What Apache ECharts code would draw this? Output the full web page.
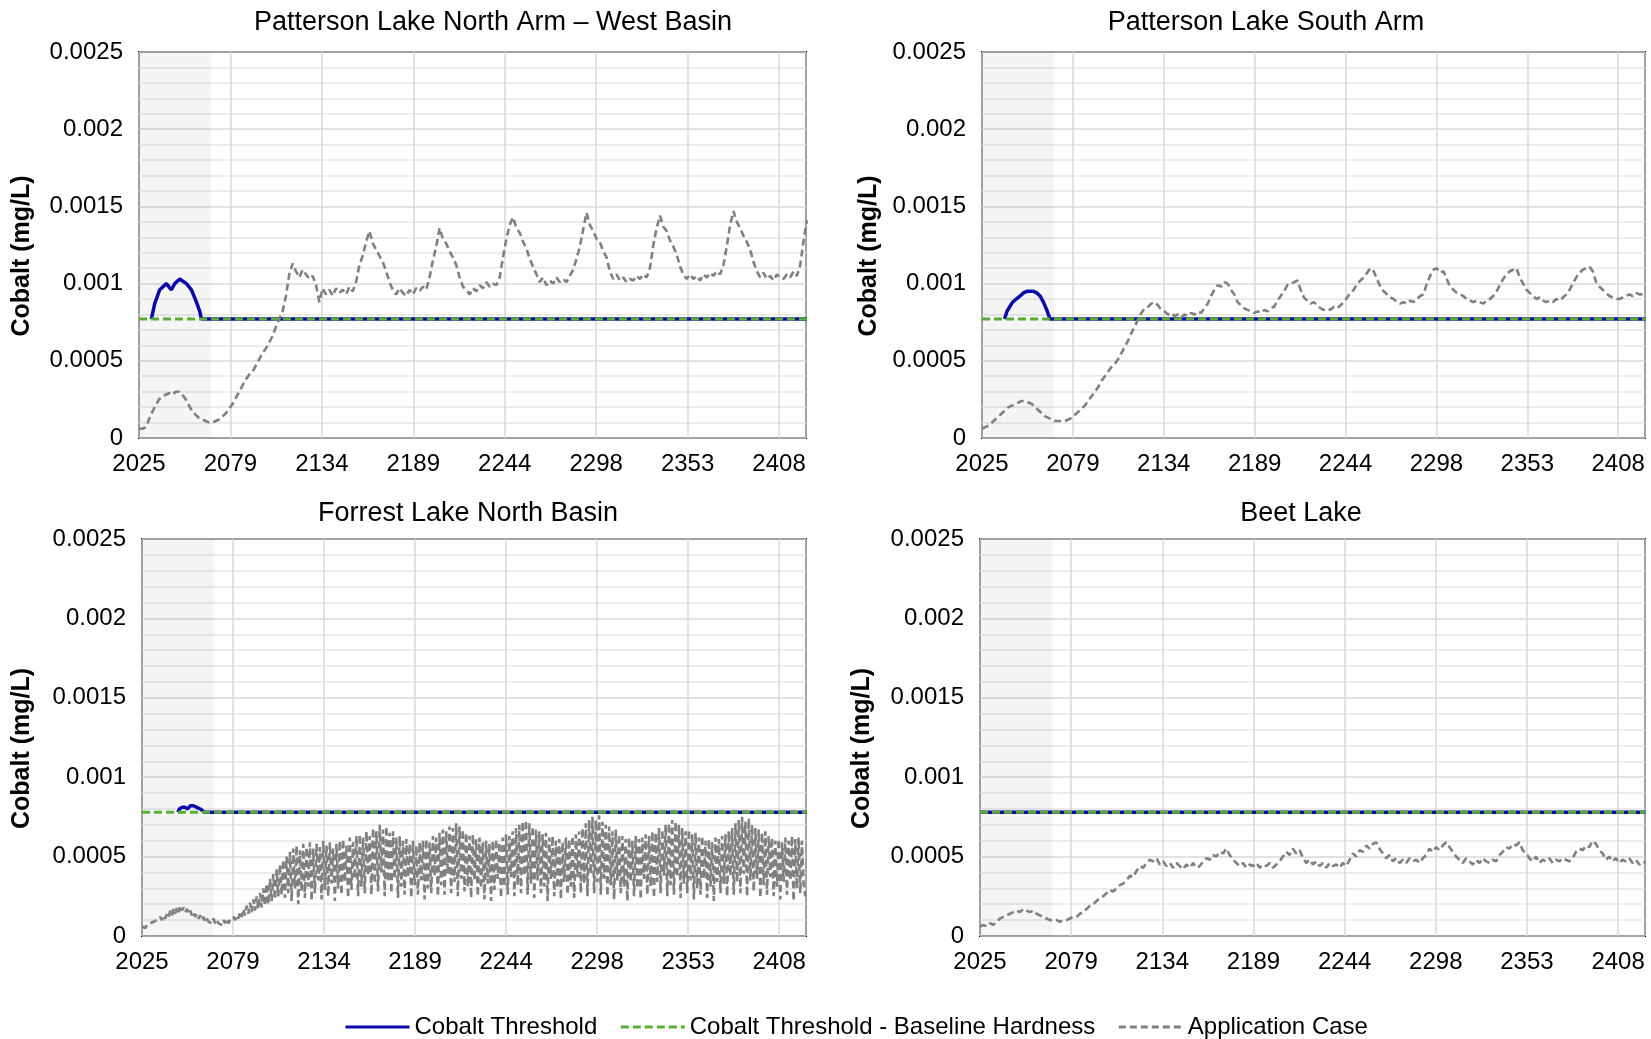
<!DOCTYPE html>
<html><head><meta charset="utf-8">
<script src="https://cdn.jsdelivr.net/npm/echarts@6/dist/echarts.min.js"></script>
<style>html,body{margin:0;padding:0;background:#fff}#c{width:1651px;height:1039px}</style>
</head><body><div id="c"></div>
<script>
// ---------- tick labels / names ----------
const xTickLabels = ['2025','2079','2134','2189','2244','2298','2353','2408'];
const yTickLabels = ['0','0.0005','0.001','0.0015','0.002','0.0025'];
const panelTitles = ['Patterson Lake North Arm \u2013 West Basin','Patterson Lake South Arm','Forrest Lake North Basin','Beet Lake'];
const seriesNames = ['Cobalt Threshold','Cobalt Threshold - Baseline Hardness','Application Case'];
const yAxisName = 'Cobalt (mg/L)';

const START_YEAR = 2025;
const END_YEAR = 2424.45;
const SHADE_END_YEAR = 2068.5;
// baseline-hardness threshold read per lake
const baselineThresholds = [0.00077, 0.00077, 0.00078, 0.00078];

// sample years for the application-case series
const years2 = []; for (let y = 2025; y <= 2425; y += 2) years2.push(y);   // 201 samples
const years1 = []; for (let y = 2025; y <= 2424; y += 1) years1.push(y);   // 400 samples

// ---------- Patterson Lake North Arm - West Basin ----------
const westBasinApp = [
0.00006,0.00006,0.00007,0.00012,0.00017,0.00021,0.00025,0.00027,0.00028,0.00029,
0.00028,0.00030,0.00030,0.00028,0.00025,0.00021,0.00017,0.00015,0.00013,0.00012,
0.00011,0.00010,0.00010,0.00011,0.00012,0.00014,0.00016,0.00019,0.00022,0.00026,
0.00030,0.00034,0.00038,0.00041,0.00043,0.00047,0.00051,0.00055,0.00058,0.00062,
0.00066,0.00072,0.00077,0.00082,0.00092,0.00106,0.00113,0.00108,0.00104,0.00109,
0.00106,0.00103,0.00105,0.00099,0.00088,0.00097,0.00093,0.00096,0.00092,0.00097,
0.00094,0.00096,0.00093,0.00098,0.00095,0.00101,0.00112,0.00118,0.00127,0.00134,
0.00126,0.00122,0.00118,0.00114,0.00108,0.00101,0.00096,0.00093,0.00097,0.00094,
0.00092,0.00096,0.00093,0.00097,0.00095,0.00098,0.00096,0.00104,0.00115,0.00124,
0.00136,0.00129,0.00126,0.00121,0.00117,0.00112,0.00104,0.00098,0.00096,0.00093,
0.00097,0.00095,0.00099,0.00097,0.00101,0.00098,0.00100,0.00099,0.00104,0.00117,
0.00129,0.00138,0.00143,0.00136,0.00133,0.00127,0.00123,0.00116,0.00111,0.00106,
0.00101,0.00104,0.00099,0.00102,0.00100,0.00104,0.00101,0.00103,0.00101,0.00105,
0.00109,0.00116,0.00124,0.00135,0.00146,0.00138,0.00134,0.00129,0.00127,0.00121,
0.00117,0.00108,0.00103,0.00106,0.00102,0.00104,0.00101,0.00103,0.00102,0.00105,
0.00103,0.00106,0.00104,0.00110,0.00125,0.00136,0.00144,0.00137,0.00134,0.00128,
0.00124,0.00119,0.00111,0.00106,0.00103,0.00106,0.00103,0.00105,0.00102,0.00106,
0.00104,0.00107,0.00105,0.00108,0.00106,0.00112,0.00124,0.00138,0.00147,0.00140,
0.00136,0.00131,0.00127,0.00122,0.00114,0.00108,0.00104,0.00107,0.00103,0.00105,
0.00102,0.00106,0.00104,0.00103,0.00106,0.00104,0.00108,0.00105,0.00112,0.00128,
0.00141];
const westBasinThrYears = [2032.4,2034.4,2037.4,2041.4,2044.4,2046.4,2049.4,2053.4,2056.4,2059.4,2061.4,2062.4,2425];
const westBasinThrVals  = [0.00077,0.00087,0.00096,0.00100,0.00096,0.00100,0.00103,0.00100,0.00096,0.00088,0.00082,0.00077,0.00077];

// ---------- Patterson Lake South Arm ----------
const southArmApp = [
0.00006,0.00007,0.00008,0.00010,0.00012,0.00014,0.00016,0.00018,0.00020,0.00021,
0.00022,0.00023,0.00024,0.00024,0.00023,0.00022,0.00020,0.00018,0.00016,0.00014,
0.00013,0.00012,0.00011,0.00011,0.00011,0.00011,0.00012,0.00013,0.00015,0.00017,
0.00019,0.00021,0.00024,0.00027,0.00030,0.00033,0.00037,0.00040,0.00043,0.00046,
0.00048,0.00051,0.00055,0.00059,0.00063,0.00068,0.00072,0.00077,0.00081,0.00084,
0.00085,0.00087,0.00088,0.00086,0.00083,0.00082,0.00080,0.00081,0.00079,0.00080,
0.00078,0.00080,0.00079,0.00081,0.00080,0.00082,0.00081,0.00084,0.00087,0.00092,
0.00096,0.00099,0.00098,0.00101,0.00100,0.00096,0.00093,0.00088,0.00086,0.00084,
0.00083,0.00082,0.00081,0.00082,0.00081,0.00083,0.00082,0.00084,0.00085,0.00089,
0.00092,0.00095,0.00099,0.00100,0.00101,0.00102,0.00096,0.00091,0.00089,0.00087,
0.00088,0.00086,0.00084,0.00083,0.00084,0.00083,0.00085,0.00084,0.00086,0.00088,
0.00091,0.00094,0.00096,0.00100,0.00102,0.00104,0.00107,0.00110,0.00108,0.00103,
0.00098,0.00095,0.00093,0.00091,0.00090,0.00088,0.00087,0.00088,0.00087,0.00089,
0.00088,0.00090,0.00092,0.00093,0.00100,0.00105,0.00109,0.00110,0.00107,0.00108,
0.00103,0.00098,0.00096,0.00094,0.00093,0.00092,0.00090,0.00089,0.00088,0.00089,
0.00088,0.00087,0.00089,0.00090,0.00092,0.00095,0.00099,0.00103,0.00106,0.00108,
0.00109,0.00110,0.00104,0.00100,0.00096,0.00094,0.00092,0.00090,0.00091,0.00089,
0.00088,0.00089,0.00088,0.00090,0.00089,0.00091,0.00093,0.00096,0.00100,0.00104,
0.00107,0.00109,0.00110,0.00111,0.00108,0.00101,0.00098,0.00096,0.00094,0.00092,
0.00091,0.00090,0.00090,0.00091,0.00092,0.00093,0.00092,0.00094,0.00093,0.00093,
0.00092];
const southArmThrYears = [2038.6,2040,2041.7,2043.5,2045.6,2048,2050,2052,2054,2056,2058,2060,2062,2064,2066,2425];
const southArmThrVals  = [0.00077,0.00082,0.00085,0.00088,0.00090,0.00092,0.00094,0.00095,0.00095,0.00095,0.00094,0.00092,0.00088,0.00083,0.00077,0.00077];

// ---------- Forrest Lake North Basin (yearly) ----------
const forrestApp = [
0.00006,0.00007,0.00005,0.00007,0.00006,0.00008,0.00007,0.00009,0.00008,0.00010,
0.00009,0.00012,0.00010,0.00013,0.00011,0.00014,0.00012,0.00016,0.00013,0.00017,
0.00014,0.00018,0.00015,0.00019,0.00016,0.00018,0.00015,0.00017,0.00014,0.00016,
0.00013,0.00015,0.00012,0.00014,0.00011,0.00013,0.00010,0.00012,0.00009,0.00011,
0.00009,0.00010,0.00008,0.00011,0.00008,0.00010,0.00008,0.00009,0.00007,0.00010,
0.00008,0.00011,0.00008,0.00010,0.00009,0.00012,0.00010,0.00013,0.00011,0.00015,
0.00012,0.00017,0.00013,0.00019,0.00014,0.00021,0.00015,0.00023,0.00016,0.00025,
0.00017,0.00027,0.00018,0.00030,0.00019,0.00033,0.00020,0.00036,0.00022,0.00039,
0.00023,0.00042,0.00025,0.00045,0.00026,0.00048,0.00024,0.00050,0.00027,0.00053,
0.00022,0.00055,0.00030,0.00057,0.00020,0.00054,0.00028,0.00058,0.00024,0.00056,
0.00031,0.00059,0.00022,0.00055,0.00027,0.00058,0.00035,0.00056,0.00023,0.00060,
0.00029,0.00057,0.00025,0.00059,0.00033,0.00055,0.00022,0.00058,0.00030,0.00060,
0.00026,0.00061,0.00034,0.00057,0.00024,0.00062,0.00029,0.00059,0.00036,0.00063,
0.00025,0.00064,0.00031,0.00062,0.00027,0.00066,0.00038,0.00063,0.00026,0.00068,
0.00033,0.00066,0.00028,0.00070,0.00040,0.00067,0.00025,0.00069,0.00034,0.00065,
0.00027,0.00066,0.00036,0.00062,0.00024,0.00063,0.00031,0.00060,0.00026,0.00061,
0.00037,0.00058,0.00024,0.00060,0.00032,0.00057,0.00026,0.00059,0.00035,0.00060,
0.00023,0.00061,0.00030,0.00059,0.00027,0.00063,0.00038,0.00062,0.00025,0.00065,
0.00032,0.00067,0.00026,0.00066,0.00039,0.00069,0.00027,0.00068,0.00034,0.00071,
0.00025,0.00069,0.00036,0.00067,0.00028,0.00065,0.00031,0.00063,0.00024,0.00064,
0.00035,0.00061,0.00025,0.00062,0.00030,0.00059,0.00023,0.00060,0.00033,0.00058,
0.00022,0.00060,0.00029,0.00061,0.00036,0.00059,0.00024,0.00062,0.00031,0.00064,
0.00026,0.00063,0.00037,0.00066,0.00025,0.00068,0.00032,0.00070,0.00027,0.00072,
0.00038,0.00073,0.00026,0.00071,0.00033,0.00069,0.00024,0.00067,0.00035,0.00066,
0.00027,0.00064,0.00031,0.00065,0.00022,0.00062,0.00036,0.00063,0.00025,0.00060,
0.00030,0.00061,0.00023,0.00059,0.00034,0.00062,0.00026,0.00061,0.00031,0.00063,
0.00024,0.00064,0.00037,0.00066,0.00027,0.00068,0.00033,0.00071,0.00025,0.00073,
0.00039,0.00075,0.00027,0.00073,0.00034,0.00076,0.00026,0.00072,0.00036,0.00070,
0.00025,0.00069,0.00032,0.00066,0.00023,0.00067,0.00035,0.00064,0.00027,0.00063,
0.00031,0.00061,0.00022,0.00062,0.00034,0.00060,0.00025,0.00063,0.00030,0.00061,
0.00023,0.00062,0.00036,0.00064,0.00026,0.00063,0.00031,0.00066,0.00024,0.00065,
0.00034,0.00068,0.00027,0.00067,0.00038,0.00070,0.00025,0.00071,0.00032,0.00073,
0.00026,0.00072,0.00037,0.00070,0.00024,0.00068,0.00033,0.00066,0.00027,0.00067,
0.00035,0.00064,0.00023,0.00065,0.00030,0.00062,0.00026,0.00063,0.00036,0.00060,
0.00024,0.00061,0.00031,0.00059,0.00022,0.00062,0.00034,0.00061,0.00027,0.00063,
0.00033,0.00064,0.00025,0.00066,0.00038,0.00068,0.00026,0.00071,0.00034,0.00073,
0.00027,0.00075,0.00039,0.00072,0.00025,0.00074,0.00035,0.00070,0.00028,0.00068,
0.00036,0.00067,0.00024,0.00065,0.00032,0.00066,0.00026,0.00063,0.00037,0.00062,
0.00025,0.00060,0.00031,0.00061,0.00023,0.00059,0.00034,0.00062,0.00026,0.00060,
0.00035,0.00063,0.00022,0.00061,0.00030,0.00062,0.00027,0.00060,0.00033,0.00025];
const forrestThrYears = [2046.6,2047.5,2049,2051,2052.5,2054,2056,2058,2060,2062.5,2425];
const forrestThrVals  = [0.00078,0.00080,0.00081,0.00081,0.00080,0.00082,0.00082,0.00081,0.00080,0.00078,0.00078];

// ---------- Beet Lake ----------
const beetApp = [
0.00006,0.00007,0.00006,0.00008,0.00007,0.00009,0.00011,0.00012,0.00013,0.00014,
0.00015,0.00016,0.00015,0.00017,0.00016,0.00015,0.00016,0.00014,0.00013,0.00012,
0.00011,0.00010,0.00010,0.00010,0.00009,0.00010,0.00010,0.00011,0.00012,0.00012,
0.00014,0.00015,0.00017,0.00019,0.00020,0.00022,0.00024,0.00025,0.00027,0.00029,
0.00028,0.00030,0.00032,0.00033,0.00035,0.00038,0.00037,0.00041,0.00044,0.00043,
0.00046,0.00048,0.00047,0.00049,0.00045,0.00047,0.00044,0.00046,0.00043,0.00046,
0.00044,0.00042,0.00045,0.00043,0.00046,0.00043,0.00044,0.00047,0.00049,0.00048,
0.00051,0.00050,0.00053,0.00052,0.00055,0.00051,0.00048,0.00046,0.00044,0.00046,
0.00043,0.00045,0.00044,0.00046,0.00043,0.00045,0.00044,0.00046,0.00043,0.00045,
0.00047,0.00050,0.00053,0.00051,0.00055,0.00052,0.00054,0.00049,0.00046,0.00048,
0.00045,0.00047,0.00044,0.00046,0.00043,0.00046,0.00044,0.00045,0.00043,0.00046,
0.00044,0.00048,0.00052,0.00050,0.00054,0.00053,0.00057,0.00055,0.00058,0.00059,
0.00055,0.00052,0.00049,0.00051,0.00047,0.00049,0.00046,0.00048,0.00046,0.00049,
0.00047,0.00048,0.00046,0.00049,0.00051,0.00055,0.00053,0.00056,0.00054,0.00057,
0.00059,0.00056,0.00053,0.00050,0.00048,0.00046,0.00049,0.00047,0.00045,0.00048,
0.00046,0.00049,0.00047,0.00046,0.00048,0.00047,0.00051,0.00053,0.00056,0.00055,
0.00058,0.00057,0.00059,0.00054,0.00052,0.00049,0.00047,0.00050,0.00046,0.00048,
0.00047,0.00049,0.00046,0.00048,0.00047,0.00049,0.00048,0.00047,0.00049,0.00053,
0.00055,0.00054,0.00057,0.00056,0.00060,0.00058,0.00054,0.00052,0.00048,0.00050,
0.00047,0.00049,0.00046,0.00048,0.00047,0.00049,0.00046,0.00048,0.00045,0.00047,
0.00046];
const beetThrYears = [2025,2425];
const beetThrVals  = [0.00078,0.00078];

// ---------- assembly ----------
const DAYS_PER_YEAR = 365.25;
const toX = y => (y - START_YEAR) * DAYS_PER_YEAR;
const zip = (ys, vs) => ys.map((y, i) => [toX(y), vs[i]]);

const panels = [
  { title: panelTitles[0], app: zip(years2, westBasinApp), thr: zip(westBasinThrYears, westBasinThrVals) },
  { title: panelTitles[1], app: zip(years2, southArmApp),  thr: zip(southArmThrYears, southArmThrVals) },
  { title: panelTitles[2], app: zip(years1, forrestApp),   thr: zip(forrestThrYears, forrestThrVals) },
  { title: panelTitles[3], app: zip(years2, beetApp),      thr: zip(beetThrYears, beetThrVals) }
];

const layout = [
  { grid: { left: 139, top: 52,  width: 667, height: 386 }, titleX: 493,  titleY: 9,   nameGap: 104 },
  { grid: { left: 982, top: 52,  width: 663, height: 386 }, titleX: 1266, titleY: 9,   nameGap: 100 },
  { grid: { left: 142, top: 539, width: 664, height: 397 }, titleX: 468,  titleY: 500, nameGap: 107 },
  { grid: { left: 980, top: 539, width: 665, height: 397 }, titleX: 1301, titleY: 500, nameGap: 105 }
];

const FONT = "'Liberation Sans', Arial, sans-serif";
const BLUE = '#0a0aa8', GREEN = '#5aae34', GRAY = '#808080';

const option = {
  animation: false,
  backgroundColor: '#fff',
  textStyle: { fontFamily: FONT },
  title: layout.map((l, i) => ({
    text: panels[i].title, left: l.titleX, top: l.titleY, textAlign: 'center', padding: 0,
    textStyle: { fontFamily: FONT, fontSize: 27, fontWeight: 'normal', color: '#000' }
  })),
  legend: {
    data: seriesNames, left: 344, top: 1015, itemWidth: 64, itemHeight: 14, itemGap: 22, padding: 0,
    itemStyle: { opacity: 0 },
    lineStyle: { width: 3 },
    textStyle: { fontFamily: FONT, fontSize: 24, color: '#000' }
  },
  grid: layout.map(l => Object.assign({ show: true, borderColor: '#000', borderWidth: 2, backgroundColor: '#fff' }, l.grid)),
  xAxis: layout.map((l, i) => ({
    type: 'value', gridIndex: i, min: 0, max: toX(END_YEAR), interval: 20000,
    axisLine: { show: false }, axisTick: { show: false },
    axisLabel: { fontFamily: FONT, fontSize: 24, color: '#000', margin: 14, showMaxLabel: false,
      formatter: v => xTickLabels[Math.round(v / 20000)] || '' },
    splitLine: { show: true, lineStyle: { color: '#d9d9d9', width: 1.5 } }
  })),
  yAxis: layout.map((l, i) => ({
    type: 'value', gridIndex: i, min: 0, max: 0.0025, interval: 0.0005,
    name: yAxisName, nameLocation: 'middle', nameGap: l.nameGap,
    nameTextStyle: { fontFamily: FONT, fontSize: 25, fontWeight: 'bold', color: '#000', padding: [0, 22, 0, 0] },
    axisLine: { show: false }, axisTick: { show: false },
    axisLabel: { fontFamily: FONT, fontSize: 24, color: '#000', margin: 16, padding: [4, 0, 0, 0],
      formatter: v => yTickLabels[Math.round(v / 0.0005)] },
    splitLine: { show: true, lineStyle: { color: '#d9d9d9', width: 1.5 } },
    minorTick: { show: false, splitNumber: 5 },
    minorSplitLine: { show: true, lineStyle: { color: '#e6e6e6', width: 1.5 } }
  })),
  series: []
};

panels.forEach((p, i) => {
  const thr = baselineThresholds[i];
  option.series.push({
    name: seriesNames[0], type: 'line', xAxisIndex: i, yAxisIndex: i, data: p.thr,
    symbol: 'none', color: BLUE, lineStyle: { color: BLUE, width: 3.5 }, z: 2,
    markArea: { silent: true, itemStyle: { color: 'rgba(0,0,0,0.04)' },
      data: [[{ xAxis: toX(START_YEAR) }, { xAxis: toX(SHADE_END_YEAR) }]] }
  });
  option.series.push({
    name: seriesNames[1], type: 'line', xAxisIndex: i, yAxisIndex: i,
    data: [[toX(START_YEAR), thr], [toX(2425), thr]],
    symbol: 'none', color: GREEN, lineStyle: { color: GREEN, width: 3, type: [8, 4] }, z: 3
  });
  option.series.push({
    name: seriesNames[2], type: 'line', xAxisIndex: i, yAxisIndex: i, data: p.app,
    symbol: 'none', color: GRAY, lineStyle: { color: GRAY, width: 2.6, type: [7, 4] }, z: 4
  });
});

const chart = echarts.init(document.getElementById('c'), null, { renderer: 'canvas' });
chart.setOption(option);
</script>
</body></html>
